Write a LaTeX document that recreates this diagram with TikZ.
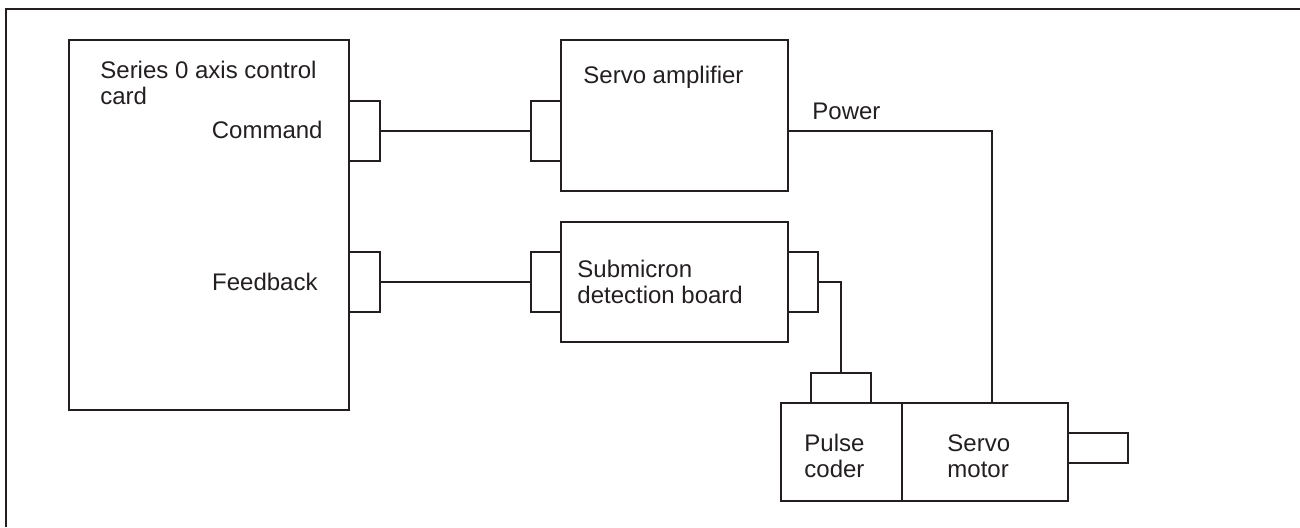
\documentclass[tikz,border=0pt]{standalone}
\usepackage{fontspec}
\setmainfont{Liberation Sans}
\definecolor{ink}{HTML}{231F20}
\begin{document}
\begin{tikzpicture}[x=0.5pt,y=-0.5pt,
	box/.style={draw=ink,line width=0.6pt,inner sep=0pt,outer sep=0pt,rectangle},
	lbl/.style={inner sep=0pt,text=ink,font=\fontsize{12}{13}\selectfont,align=left},
	wire/.style={draw=ink,line width=0.6pt}]
	\useasboundingbox (0,0) rectangle (1300,527);
	\draw[ink,line width=1.1pt] (6,527) |- (1300,9);
	% card and its ports
	\node[box,minimum width=140pt,minimum height=185pt] (card) at (209,225) {};
	\node[box,minimum width=15.5pt,minimum height=30pt] (cmdport) at (364.5,131) {};
	\node[box,minimum width=15.5pt,minimum height=30pt] (fbport) at (364.5,282) {};
	\node[lbl,anchor=base west] (cardtxt) at (100,104) {Series 0 axis control\\card};
	\node[lbl,anchor=base east] (cmdtxt) at (323,138) {Command};\node[lbl,anchor=base east] (fbtxt) at (318,290) {Feedback};
	% servo amplifier
	\node[box,minimum width=113.5pt,minimum height=75.5pt] (amp) at (674.5,115.5) {};
	\node[box,minimum width=15pt,minimum height=30pt] (ampin) at (546,131) {};
	\node[lbl,anchor=base west] (amptxt) at (583,83) {Servo amplifier};
	\node[lbl,anchor=base west] (pwrtxt) at (812,119) {Power};
	% submicron detection board
	\node[box,minimum width=113.5pt,minimum height=60pt] (board) at (674.5,282) {};
	\node[box,minimum width=15pt,minimum height=30pt] (brdin) at (546,282) {};
	\node[box,minimum width=15pt,minimum height=30pt] (brdout) at (803,282) {};
	\node[lbl,anchor=base west] (brdtxt) at (577,303) {Submicron\\detection board};
	% motor with pulse coder
	\node[box,minimum width=60.5pt,minimum height=49pt] (coder) at (841.5,452) {};
	\node[box,minimum width=30pt,minimum height=15pt] (pcport) at (841,388) {};
	\node[box,minimum width=83pt,minimum height=49pt] (motor) at (985,452) {};
	\node[box,minimum width=30pt,minimum height=15pt] (shaft) at (1098,448) {};
	\node[lbl,anchor=base west] (codertxt) at (804,477) {Pulse\\coder};\node[lbl,anchor=base west] (motortxt) at (947,477) {Servo\\motor};
	\coordinate (pwrdrop) at (992,403);
	% cables
	\draw[wire] (cmdport.east) -- (ampin.west);\draw[wire] (fbport.east) -- (brdin.west);
	\draw[wire] (brdout.east) -| (pcport.north);
	\draw[wire] (amp.east |- ampin.east) -| (pwrdrop);
\end{tikzpicture}
\end{document}
